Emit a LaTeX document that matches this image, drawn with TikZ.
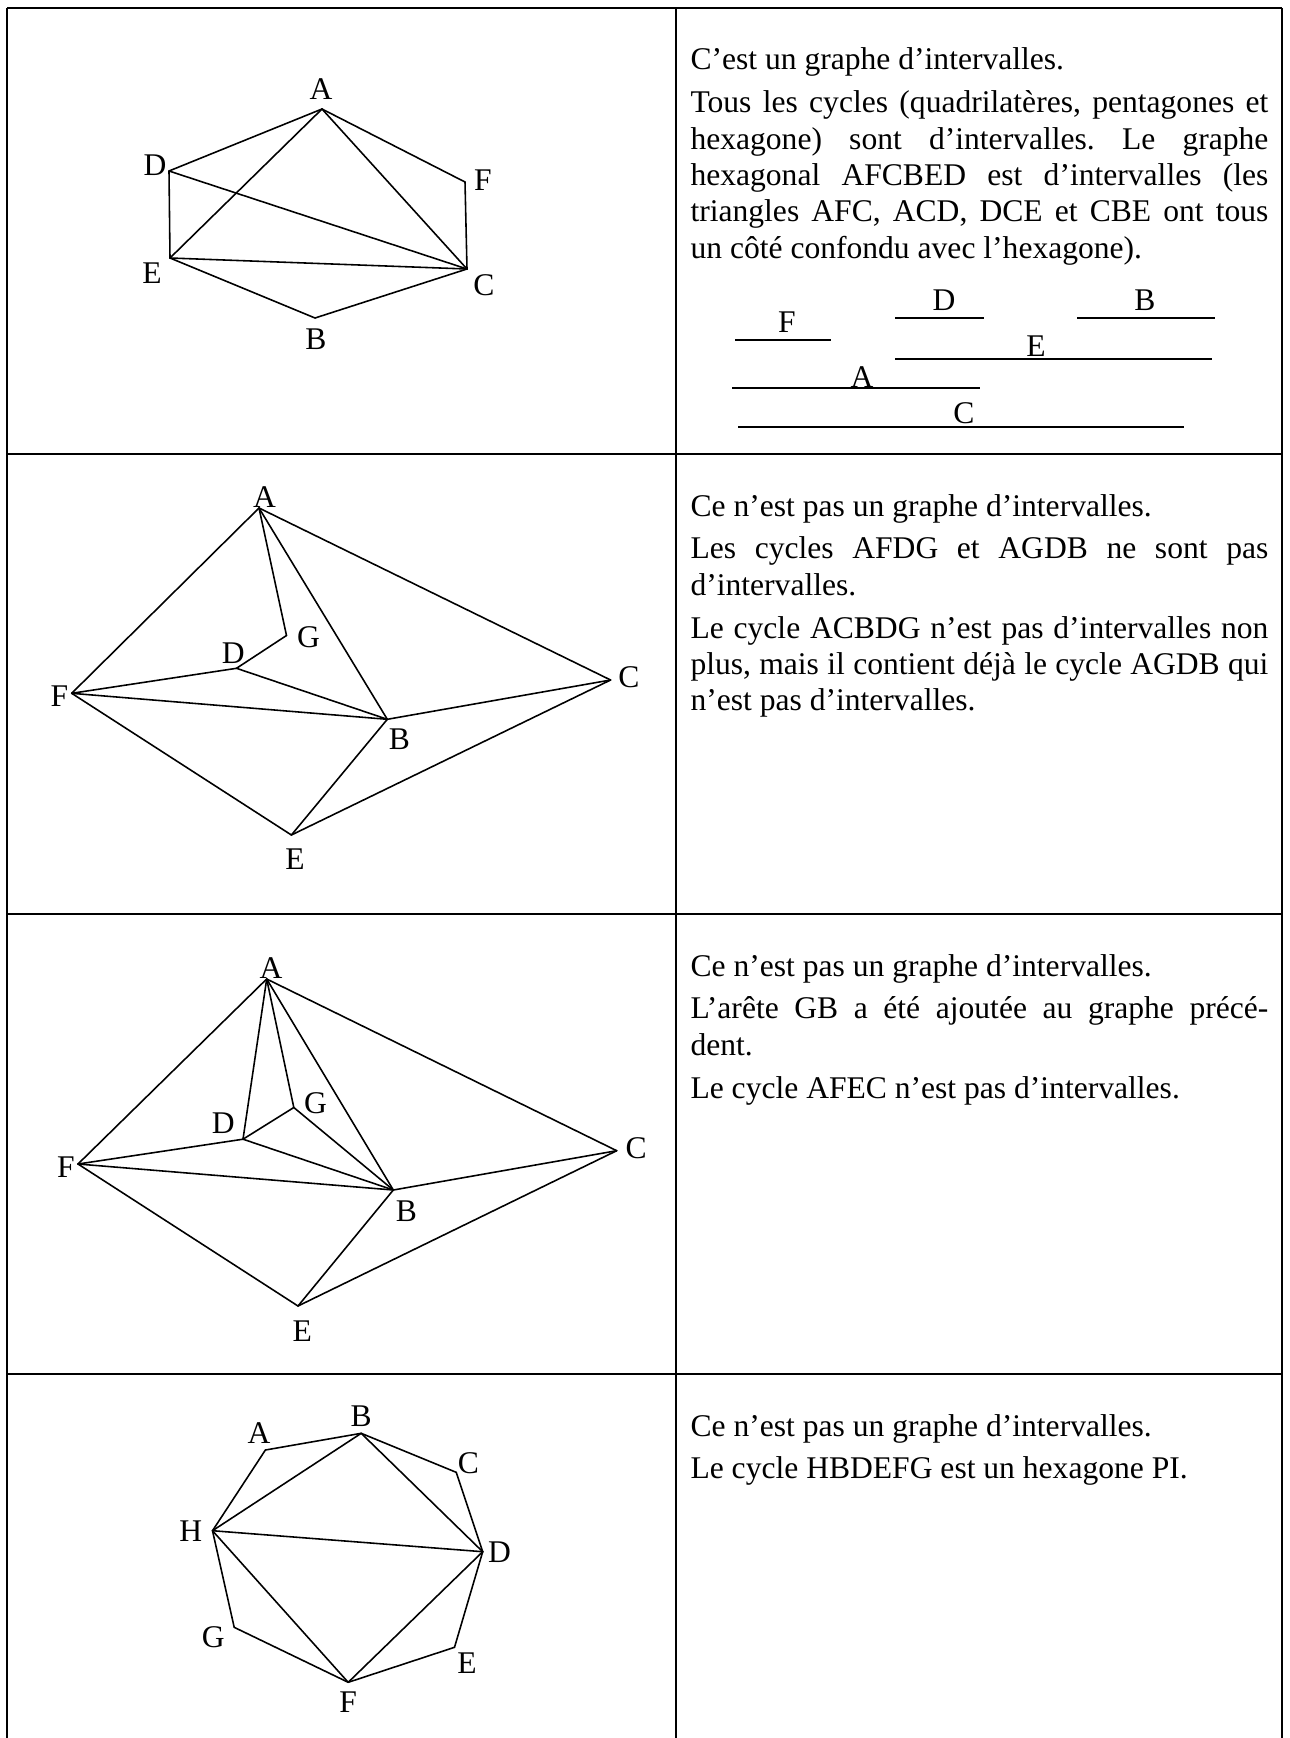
\documentclass[tikz,border=0pt]{standalone}
\usepackage{fontspec}
\setmainfont{Liberation Serif}
\tikzset{
  tabline/.style={line width=0.8pt},
  arete/.style={line width=0.6pt,line cap=round},
  bar/.style={line width=0.6pt},
  lbl/.style={inner sep=0pt},
  txt/.style={anchor=base west,inner sep=0pt,text width=219.6pt,align=justify,
              execute at begin node={\frenchspacing\setlength{\parskip}{2.5pt}}}
}
\begin{document}
\begin{tikzpicture}[x=0.38pt,y=-0.38pt,font=\fontsize{12}{13.8}\selectfont]
    \useasboundingbox (0,0) rectangle (1290,1738);
    \draw[tabline] (7,8) -- (1282,8);
    \draw[tabline] (7,454) -- (1282,454);
    \draw[tabline] (7,914) -- (1282,914);
    \draw[tabline] (7,1374) -- (1282,1374);
    \draw[tabline] (7,8) -- (7,1738);
    \draw[tabline] (676,8) -- (676,1738);
    \draw[tabline] (1282,8) -- (1282,1738);

    \coordinate (A1) at (322,109);
    \coordinate (D1) at (169,171);
    \coordinate (F1) at (465,182);
    \coordinate (E1) at (170,258);
    \coordinate (C1) at (467,269);
    \coordinate (B1) at (315,318);
    \node[lbl] (lA1) at (321,89)  {A};
    \node[lbl] (lD1) at (155,165) {D};
    \node[lbl] (lF1) at (483,180) {F};
    \node[lbl] (lE1) at (152,273) {E};
    \node[lbl] (lC1) at (484,285) {C};
    \node[lbl] (lB1) at (316,339) {B};
    \draw[arete] (A1) -- (D1);
    \draw[arete] (A1) -- (E1);
    \draw[arete] (A1) -- (C1);
    \draw[arete] (A1) -- (F1);
    \draw[arete] (F1) -- (C1);
    \draw[arete] (D1) -- (E1);
    \draw[arete] (D1) -- (C1);
    \draw[arete] (E1) -- (C1);
    \draw[arete] (E1) -- (B1);
    \draw[arete] (B1) -- (C1);

    \node[txt] (t1) at (690,70) {C’est un graphe d’intervalles.\par
      Tous les cycles (quadrilatères, pentagones et\linebreak
      hexagone) sont d’intervalles. Le graphe\linebreak
      hexagonal AFCBED est d’intervalles (les\linebreak
      triangles AFC, ACD, DCE et CBE ont tous\linebreak
      un côté confondu avec l’hexagone).};
    \node[lbl] (iF) at (787,322) {F};
    \node[lbl] (iD) at (944,300) {D};
    \node[lbl] (iB) at (1145,300) {B};
    \node[lbl] (iE) at (1036,346) {E};
    \node[lbl] (iA) at (862,377) {A};
    \node[lbl] (iC) at (964,413) {C};
    \draw[bar] (735,340) -- (831,340);
    \draw[bar] (895,318) -- (984,318);
    \draw[bar] (1077,318) -- (1215,318);
    \draw[bar] (895,359) -- (1212,359);
    \draw[bar] (732,388) -- (980,388);
    \draw[bar] (738,427) -- (1184,427);

    \coordinate (A2) at (259,508);
    \coordinate (G2) at (286.5,635.5);
    \coordinate (D2) at (236.5,668.3);
    \coordinate (F2) at (71.7,693.3);
    \coordinate (B2) at (387.3,719.3);
    \coordinate (C2) at (610.6,680);
    \coordinate (E2) at (291.4,835);
    \node[lbl] (lA2) at (264.5,496.7) {A};
    \node[lbl] (lG2) at (308.5,637)   {G};
    \node[lbl] (lD2) at (233.3,653.3) {D};
    \node[lbl] (lF2) at (59.5,696.5)  {F};
    \node[lbl] (lB2) at (399.5,739.5) {B};
    \node[lbl] (lC2) at (628.8,677)   {C};
    \node[lbl] (lE2) at (295,859.3)   {E};
    \draw[arete] (F2) -- (A2);
    \draw[arete] (A2) -- (G2);
    \draw[arete] (G2) -- (D2);
    \draw[arete] (D2) -- (F2);
    \draw[arete] (D2) -- (B2);
    \draw[arete] (A2) -- (B2);
    \draw[arete] (A2) -- (C2);
    \draw[arete] (F2) -- (B2);
    \draw[arete] (B2) -- (C2);
    \draw[arete] (F2) -- (E2);
    \draw[arete] (E2) -- (B2);
    \draw[arete] (E2) -- (C2);

    \node[txt] (t2) at (690,516) {Ce n’est pas un graphe d’intervalles.\par
      Les cycles AFDG et AGDB ne sont pas\linebreak
      d’intervalles.\par
      Le cycle ACBDG n’est pas d’intervalles non\linebreak
      plus, mais il contient déjà le cycle AGDB qui\linebreak
      n’est pas d’intervalles.};

    \coordinate (A3) at (266.7,979);
    \coordinate (G3) at (293.8,1107.5);
    \coordinate (D3) at (243,1139.2);
    \coordinate (F3) at (78,1164);
    \coordinate (B3) at (393.3,1190);
    \coordinate (C3) at (616.7,1150.7);
    \coordinate (E3) at (298,1306);
    \node[lbl] (lA3) at (271,968.3)    {A};
    \node[lbl] (lG3) at (315.4,1102.7) {G};
    \node[lbl] (lD3) at (223.3,1123)   {D};
    \node[lbl] (lF3) at (66,1167.3)    {F};
    \node[lbl] (lB3) at (406.5,1211.2) {B};
    \node[lbl] (lC3) at (636.2,1148.3) {C};
    \node[lbl] (lE3) at (302.3,1330.7) {E};
    \draw[arete] (F3) -- (A3);
    \draw[arete] (A3) -- (D3);
    \draw[arete] (A3) -- (G3);
    \draw[arete] (G3) -- (D3);
    \draw[arete] (G3) -- (B3);
    \draw[arete] (D3) -- (F3);
    \draw[arete] (D3) -- (B3);
    \draw[arete] (A3) -- (B3);
    \draw[arete] (A3) -- (C3);
    \draw[arete] (F3) -- (B3);
    \draw[arete] (B3) -- (C3);
    \draw[arete] (F3) -- (E3);
    \draw[arete] (E3) -- (B3);
    \draw[arete] (E3) -- (C3);

    \node[txt] (t3) at (690,976) {Ce n’est pas un graphe d’intervalles.\par
      L’arête GB a été ajoutée au graphe précé-\linebreak
      dent.\par
      Le cycle AFEC n’est pas d’intervalles.};

    \coordinate (A4) at (265.4,1450);
    \coordinate (B4) at (361.2,1433.3);
    \coordinate (C4) at (456.2,1472.3);
    \coordinate (D4) at (482.7,1551.7);
    \coordinate (E4) at (454.5,1647.3);
    \coordinate (F4) at (348.2,1682.3);
    \coordinate (G4) at (234.2,1627.3);
    \coordinate (H4) at (212.5,1530.7);
    \node[lbl] (lA4) at (258.9,1432.7) {A};
    \node[lbl] (lB4) at (361.2,1416)   {B};
    \node[lbl] (lC4) at (468.3,1462.7) {C};
    \node[lbl] (lD4) at (499.6,1552.3) {D};
    \node[lbl] (lE4) at (467,1663.3)   {E};
    \node[lbl] (lF4) at (348.2,1701.7) {F};
    \node[lbl] (lG4) at (213.4,1636.7) {G};
    \node[lbl] (lH4) at (190.8,1531)   {H};
    \draw[arete] (A4) -- (B4);
    \draw[arete] (B4) -- (C4);
    \draw[arete] (C4) -- (D4);
    \draw[arete] (D4) -- (E4);
    \draw[arete] (E4) -- (F4);
    \draw[arete] (F4) -- (G4);
    \draw[arete] (G4) -- (H4);
    \draw[arete] (H4) -- (A4);
    \draw[arete] (H4) -- (B4);
    \draw[arete] (B4) -- (D4);
    \draw[arete] (H4) -- (D4);
    \draw[arete] (H4) -- (F4);
    \draw[arete] (F4) -- (D4);

    \node[txt] (t4) at (690,1436) {Ce n’est pas un graphe d’intervalles.\par
      Le cycle HBDEFG est un hexagone PI.};
  \end{tikzpicture}
\end{document}
